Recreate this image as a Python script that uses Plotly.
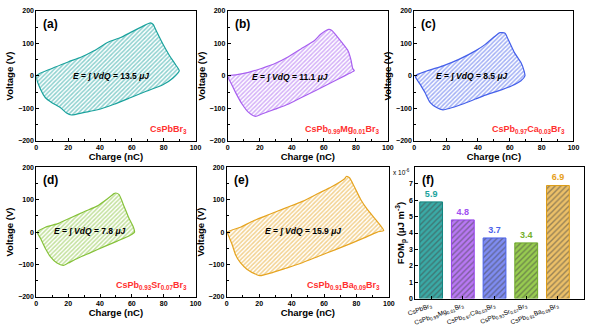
import plotly.graph_objects as go

FONT = "Arial, Liberation Sans, sans-serif"

# ---- loop data (charge nC, voltage V) ----
qa = [0, 2.7, 5.7, 9.8, 15, 19, 22, 30.3, 38.5, 48.8, 59, 69, 79.5, 85.7, 89.8, 87.7, 83.6, 79.5, 75.4, 73.4, 71.7, 67, 59, 53, 44.7, 36.5, 28.3, 20, 9.8, 0]
va = [0, -42, -67, -82, -97, -114, -120, -112, -104, -87, -67, -47, -27, -7, 16, 33, 63, 98, 138, 158, 163, 153, 133, 118, 103, 78, 58, 43, 23, 0]

qb = [0, 5, 13, 21, 29.5, 37.6, 45.7, 54, 58, 63, 65, 72, 75, 77, 78, 79, 76, 70, 62, 54, 45.7, 37.6, 29.5, 21.3, 17.3, 13, 9, 5, 2, 0]
vb = [0, 3, 11, 23, 38, 58, 83, 108, 128, 143, 140, 98, 78, 48, 23, 16, 8, -7, -27, -47, -67, -87, -102, -117, -124, -112, -87, -52, -22, 0]

qc = [0.6, 7.8, 18, 28, 38.4, 44.6, 50.7, 53.8, 57, 59, 63, 67, 69, 69.5, 67, 61, 52.8, 44.6, 38.4, 30, 22, 18, 14, 10, 6.7, 3.7, 0.6]
vc = [0, 15, 31, 51, 77, 97, 122, 133, 131, 112, 71, 41, 15, 0, -15, -31, -46, -59, -71, -87, -100, -104, -97, -82, -51, -26, 0]

qd = [0.6, 5.7, 14, 22, 30, 38.5, 44.7, 48.8, 49.8, 52, 55, 58, 61, 61.7, 59, 50.8, 42.6, 34.4, 26, 20, 17, 13, 8.8, 5.7, 2.7, 0.6]
vd = [0, 15, 27, 45, 63, 81, 103, 119, 121, 116, 81, 45, 15, 0, -10, -28, -45, -63, -81, -96, -103, -96, -76, -51, -20, 0]

qe = [0.4, 8.4, 16.5, 26.5, 36.5, 46.6, 56.6, 64.7, 72.7, 73.7, 75.7, 78.7, 82.7, 86.7, 90.8, 94.8, 96.8, 92.8, 84.7, 76.7, 66.7, 56.6, 46.6, 36.5, 28.5, 20.5, 18.5, 12.4, 8.4, 5.4, 3.4, 1.4, 0.4]
ve = [0, 15, 35, 55, 75, 95, 120, 140, 165, 172, 168, 140, 100, 70, 45, 20, 5, 0, -18, -35, -55, -75, -95, -112, -125, -135, -132, -115, -95, -70, -40, -15, 0]

panel_tags = ["(a)", "(b)", "(c)", "(d)", "(e)"]
energies = ["13.5", "11.1", "8.5", "7.8", "15.9"]
compositions = [
    "CsPbBr<sub>3</sub>",
    "CsPb<sub>0.99</sub>Mg<sub>0.01</sub>Br<sub>3</sub>",
    "CsPb<sub>0.97</sub>Ca<sub>0.03</sub>Br<sub>3</sub>",
    "CsPb<sub>0.93</sub>Sr<sub>0.07</sub>Br<sub>3</sub>",
    "CsPb<sub>0.91</sub>Ba<sub>0.09</sub>Br<sub>3</sub>",
]
loop_colors = ["#1aa29d", "#a860f0", "#4560ea", "#86c23a", "#e6a420"]

# ---- FOM bar data ----
fom_labels = [
    "CsPbBr<sub>3</sub>",
    "CsPb<sub>0.99</sub>Mg<sub>0.01</sub>Br<sub>3</sub>",
    "CsPb<sub>0.97</sub>Ca<sub>0.03</sub>Br<sub>3</sub>",
    "CsPb<sub>0.93</sub>Sr<sub>0.07</sub>Br<sub>3</sub>",
    "CsPb<sub>0.91</sub>Ba<sub>0.09</sub>Br<sub>3</sub>",
]
fom_values = [5.9, 4.8, 3.7, 3.4, 6.9]
bar_fill = ["#3aaaa6", "#b878f4", "#7f8cf2", "#98cc50", "#ecc068"]
bar_line = ["#10857f", "#9440ea", "#4a62ea", "#6ea828", "#dc9c18"]
text_colors = ["#1aa29d", "#a050f0", "#4a62ea", "#76b02a", "#e6a020"]

loops = [(qa, va), (qb, vb), (qc, vc), (qd, vd), (qe, ve)]

W, H = 600, 330
def xd(a, b):
    return [a / W, b / W]
def yd(top, bot):
    return [1 - bot / H, 1 - top / H]

doms = [
    (xd(29, 192), yd(7, 140)),
    (xd(225, 389), yd(7, 140)),
    (xd(416, 579), yd(7, 140)),
    (xd(29, 192), yd(167, 299)),
    (xd(224, 390), yd(167, 299)),
]
energy_pos = [(47, 0), (39, -2), (36, 0), (34, 2), (47, 2)]

fig = go.Figure()
layout = dict(
    width=W, height=H, margin=dict(l=0, r=0, t=0, b=0),
    paper_bgcolor="white", plot_bgcolor="white", showlegend=False,
    font=dict(family=FONT, color="black"),
)
annotations = []

axis_common = dict(
    showline=True, linecolor="black", linewidth=1, mirror=True,
    ticks="inside", ticklen=3, tickcolor="black", showgrid=False, zeroline=False,
    tickfont=dict(size=7, family=FONT, weight="bold"),
)

for i, (q, v) in enumerate(loops):
    n = i + 1
    xa = "x" if n == 1 else f"x{n}"
    ya = "y" if n == 1 else f"y{n}"
    fig.add_trace(go.Scatter(
        x=q, y=v, xaxis=xa, yaxis=ya, mode="lines",
        line=dict(color=loop_colors[i], width=1.2, shape="spline", smoothing=0.6),
        fill="toself", fillcolor="white",
        fillpattern=dict(shape="/", fgcolor=loop_colors[i], bgcolor="white",
                         size=3, solidity=0.5),
        hoverinfo="skip",
    ))
    xk = "xaxis" if n == 1 else f"xaxis{n}"
    yk = "yaxis" if n == 1 else f"yaxis{n}"
    layout[xk] = dict(
        axis_common, domain=doms[i][0], anchor=ya, range=[0, 100],
        tickvals=[0, 20, 40, 60, 80, 100],
        minor=dict(ticks="inside", ticklen=2, tickcolor="black", dtick=10),
        title=dict(text="Charge (nC)", font=dict(size=9.5, family=FONT, weight="bold"), standoff=1),
    )
    layout[yk] = dict(
        axis_common, domain=doms[i][1], anchor=xa, range=[-200, 200],
        tickvals=[-200, -100, 0, 100, 200],
        minor=dict(ticks="inside", ticklen=2, tickcolor="black", dtick=50),
        title=dict(text="Voltage (V)", font=dict(size=9.5, family=FONT, weight="bold"), standoff=2),
    )
    xdom = xa + " domain"
    ydom = ya + " domain"
    annotations.append(dict(
        xref=xdom, yref=ydom, x=0.03, y=0.97, xanchor="left", yanchor="top",
        text="<b>" + panel_tags[i] + "</b>", showarrow=False,
        font=dict(size=12, family=FONT, color="black"),
    ))
    annotations.append(dict(
        xref=xa, yref=ya, x=energy_pos[i][0], y=energy_pos[i][1],
        text="<i>E</i> = \u222B <i>VdQ</i> = " + energies[i] + " <i>\u03BCJ</i>",
        showarrow=False, font=dict(size=8.5, family=FONT, color="black", weight="bold"),
    ))
    annotations.append(dict(
        xref=xdom, yref=ydom, x=0.96, y=0.09, xanchor="right", yanchor="middle",
        text=compositions[i], showarrow=False,
        font=dict(size=9, family=FONT, color="#ff3030", weight="bold"),
    ))

# ---- bar chart (f) ----
fig.add_trace(go.Bar(
    x=list(range(len(fom_values))), y=fom_values, xaxis="x6", yaxis="y6",
    width=0.72,
    marker=dict(
        color=bar_fill,
        line=dict(color=bar_line, width=1),
        pattern=dict(shape="/", fgcolor=bar_line, bgcolor=bar_fill, size=4, solidity=0.35),
    ),
    text=[f"{v:.1f}" for v in fom_values], textposition="outside",
    textfont=dict(size=9, family=FONT, color=text_colors, weight="bold"), cliponaxis=False,
    hoverinfo="skip",
))
layout["xaxis6"] = dict(
    axis_common, domain=xd(417, 590), anchor="y6", range=[-0.5, 4.83],
    tickvals=list(range(len(fom_labels))), ticktext=fom_labels, tickangle=-20,
    tickfont=dict(size=6.5, family=FONT),
)
layout["yaxis6"] = dict(
    axis_common, domain=yd(167, 301), anchor="x6", range=[0, 8],
    tickvals=[0, 1, 2, 3, 4, 5, 6, 7],
    title=dict(text="FOM<sub>p</sub> (\u03BCJ m<sup>-3</sup>)", font=dict(size=9.5, family=FONT, weight="bold"), standoff=2),
)
annotations.append(dict(
    xref="x6 domain", yref="y6 domain", x=0.03, y=0.97, xanchor="left", yanchor="top",
    text="<b>(f)</b>", showarrow=False, font=dict(size=12, family=FONT, color="black"),
))
annotations.append(dict(
    xref="paper", yref="paper", x=414 / W, y=1 - 172 / H, xanchor="right", yanchor="middle",
    text="x 10<sup>-6</sup>", showarrow=False, font=dict(size=6.5, family=FONT, color="black"),
))

layout["annotations"] = annotations
fig.update_layout(**layout)
fig.write_html("out.html")
